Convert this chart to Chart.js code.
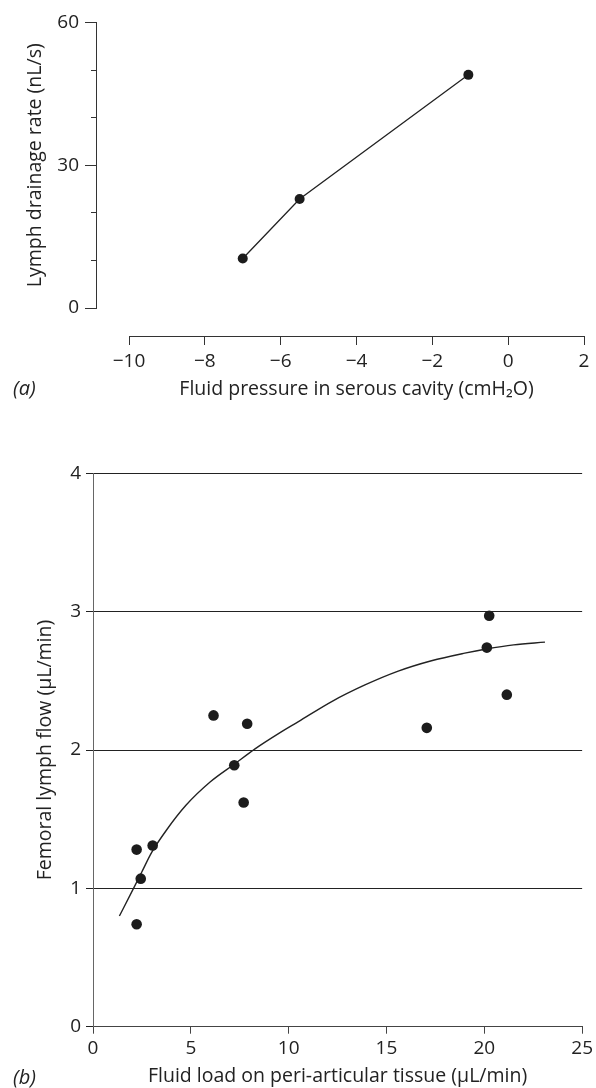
<!DOCTYPE html>
<html>
<head>
<meta charset="utf-8">
<script src="https://cdn.jsdelivr.net/npm/chart.js@4.4.1/dist/chart.umd.min.js"></script>
<style>
  body { margin: 0; background: #fff; width: 596px; height: 1088px; overflow: hidden; position: relative; }
  canvas { position: absolute; left: 0; }
  #chartA { top: 0; }
  #chartB { top: 440px; }
</style>
</head>
<body>
<canvas id="chartA" width="596" height="420"></canvas>
<canvas id="chartB" width="596" height="648"></canvas>
<script>
// (a) lymph drainage rate against fluid pressure in the serous cavity
const pressure = [-7.0, -5.5, -1.05];
const drainage = [10.4, 22.9, 49.0];
const pressureTicks = [-10, -8, -6, -4, -2, 0, 2];
const drainageTicks = [0, 30, 60];
const drainageMinor = [0, 10, 20, 30, 40, 50, 60];

// (b) femoral lymph flow against fluid load on peri-articular tissue
const loadX = [2.23, 3.05, 2.44, 2.23, 6.16, 7.88, 7.22, 7.70, 17.06, 20.13, 20.25, 21.15];
const flowY = [1.28, 1.31, 1.07, 0.74, 2.25, 2.19, 1.89, 1.62, 2.16, 2.74, 2.97, 2.40];
// fitted curve
const curveX = [1.35, 2.0, 2.5, 3.0, 3.75, 4.75, 6.0, 7.2, 8.3, 9.5, 10.5, 12.2, 13.9, 15.6, 17.3, 19.0, 20.1, 21.5, 23.1];
const curveY = [0.80, 0.98, 1.12, 1.26, 1.42, 1.60, 1.77, 1.895, 2.01, 2.12, 2.205, 2.35, 2.47, 2.57, 2.645, 2.70, 2.73, 2.76, 2.78];
const loadTicks = [0, 5, 10, 15, 20, 25];
const flowTicks = [0, 1, 2, 3, 4];

const FONT = '"Open Sans", "Noto Sans", sans-serif';
const INK = '#222';
Chart.defaults.font.family = FONT;
Chart.defaults.color = INK;

const toPoints = (xs, ys) => xs.map((x, i) => ({ x: x, y: ys[i] }));
const minus = v => (v < 0 ? '\u2212' + Math.abs(v) : String(v));
const setTicks = list => scale => { scale.ticks = list.map(v => ({ value: v })); };
const fixWidth = w => scale => { scale.width = w; };
const fixHeight = h => scale => { scale.height = h; };

// panel tag "(a)" / "(b)"
const panelTag = {
  id: 'panelTag',
  afterDraw(chart, args, opts) {
    const ctx = chart.ctx;
    ctx.save();
    ctx.fillStyle = INK;
    ctx.font = 'italic 20px ' + FONT;
    ctx.textAlign = 'left';
    ctx.textBaseline = 'middle';
    ctx.fillText(opts.text, 13, opts.y);
    ctx.restore();
  }
};

new Chart(document.getElementById('chartA'), {
  type: 'scatter',
  data: {
    datasets: [{
      data: toPoints(pressure, drainage),
      yAxisID: 'y',
      showLine: true,
      borderColor: INK,
      borderWidth: 1.3,
      pointRadius: 5,
      pointHoverRadius: 5,
      pointBackgroundColor: '#1c1c1c',
      pointBorderWidth: 0,
      clip: false
    }]
  },
  options: {
    responsive: false,
    animation: false,
    layout: { padding: { left: 0, right: 12, top: 22.5, bottom: 112 } },
    plugins: {
      legend: { display: false },
      tooltip: { enabled: false },
      panelTag: { text: '(a)', y: 389 }
    },
    scales: {
      x: {
        type: 'linear',
        min: -10, max: 2,
        position: { y: -6.09 },
        afterBuildTicks: setTicks(pressureTicks),
        border: { display: true, color: '#333', width: 1 },
        grid: { drawOnChartArea: false, tickLength: 8, color: '#333' },
        ticks: { callback: minus, padding: 5, maxRotation: 0, font: { size: 19 }, color: INK },
        title: {
          display: true,
          text: 'Fluid pressure in serous cavity (cmH\u2082O)',
          font: { size: 19.5 },
          color: INK,
          padding: { top: 0, bottom: 0 }
        }
      },
      // labels and title only, left of the offset axis line (invisible ticks keep the gap)
      yLabels: {
        type: 'linear',
        axis: 'y',
        position: 'left',
        min: 0, max: 60,
        afterBuildTicks: setTicks(drainageTicks),
        afterFit: fixWidth(129),
        border: { display: false },
        grid: { drawOnChartArea: false, tickLength: 40, color: 'rgba(0,0,0,0)' },
        ticks: { padding: 10, font: { size: 19 }, color: INK },
        title: {
          display: true,
          text: 'Lymph drainage rate (nL/s)',
          font: { size: 19.5 },
          color: INK,
          padding: { top: 23.3, bottom: 0 }
        }
      },
      y: {
        type: 'linear',
        min: 0, max: 60,
        position: { x: -10.845 },
        afterBuildTicks: setTicks(drainageTicks),
        border: { display: true, color: '#333', width: 1 },
        grid: { drawOnChartArea: false, tickLength: 11, color: '#333' },
        ticks: { callback: () => '', padding: 0 }
      },
      yMinor: {
        type: 'linear',
        axis: 'y',
        min: 0, max: 60,
        position: { x: -10.845 },
        afterBuildTicks: setTicks(drainageMinor),
        border: { display: false },
        grid: { drawOnChartArea: false, tickLength: 6, color: '#333' },
        ticks: { callback: () => '', padding: 0 }
      }
    }
  },
  plugins: [panelTag]
});

new Chart(document.getElementById('chartB'), {
  type: 'scatter',
  data: {
    datasets: [{
      data: toPoints(loadX, flowY),
      pointRadius: 5.3,
      pointHoverRadius: 5.3,
      pointBackgroundColor: '#1c1c1c',
      pointBorderWidth: 0,
      clip: false
    }, {
      data: toPoints(curveX, curveY),
      showLine: true,
      borderColor: INK,
      borderWidth: 1.4,
      pointRadius: 0,
      cubicInterpolationMode: 'monotone',
      clip: false
    }]
  },
  options: {
    responsive: false,
    animation: false,
    layout: { padding: { left: 0, right: 11, top: 33.3, bottom: 0 } },
    plugins: {
      legend: { display: false },
      tooltip: { enabled: false },
      panelTag: { text: '(b)', y: 638 }
    },
    scales: {
      x: {
        type: 'linear',
        min: 0, max: 25,
        position: 'bottom',
        afterBuildTicks: setTicks(loadTicks),
        afterFit: fixHeight(61.3),
        border: { display: true, color: '#444', width: 1 },
        grid: { drawOnChartArea: false, tickLength: 7, color: '#444' },
        ticks: { padding: 3, maxRotation: 0, font: { size: 19 }, color: INK },
        title: {
          display: true,
          text: 'Fluid load on peri-articular tissue (\u03bcL/min)',
          font: { size: 19.5 },
          color: INK,
          padding: { top: 0, bottom: 0 }
        }
      },
      y: {
        type: 'linear',
        min: 0, max: 4,
        position: 'left',
        afterBuildTicks: setTicks(flowTicks),
        afterFit: fixWidth(93),
        border: { display: true, color: '#666', width: 1 },
        grid: { drawOnChartArea: true, tickLength: 7, color: '#222', lineWidth: 1 },
        ticks: { padding: 5, font: { size: 19 }, color: INK },
        title: {
          display: true,
          text: 'Femoral lymph flow (\u03bcL/min)',
          font: { size: 19.5 },
          color: INK,
          padding: { top: 33.3, bottom: 0 }
        }
      }
    }
  },
  plugins: [panelTag]
});
</script>
</body>
</html>
